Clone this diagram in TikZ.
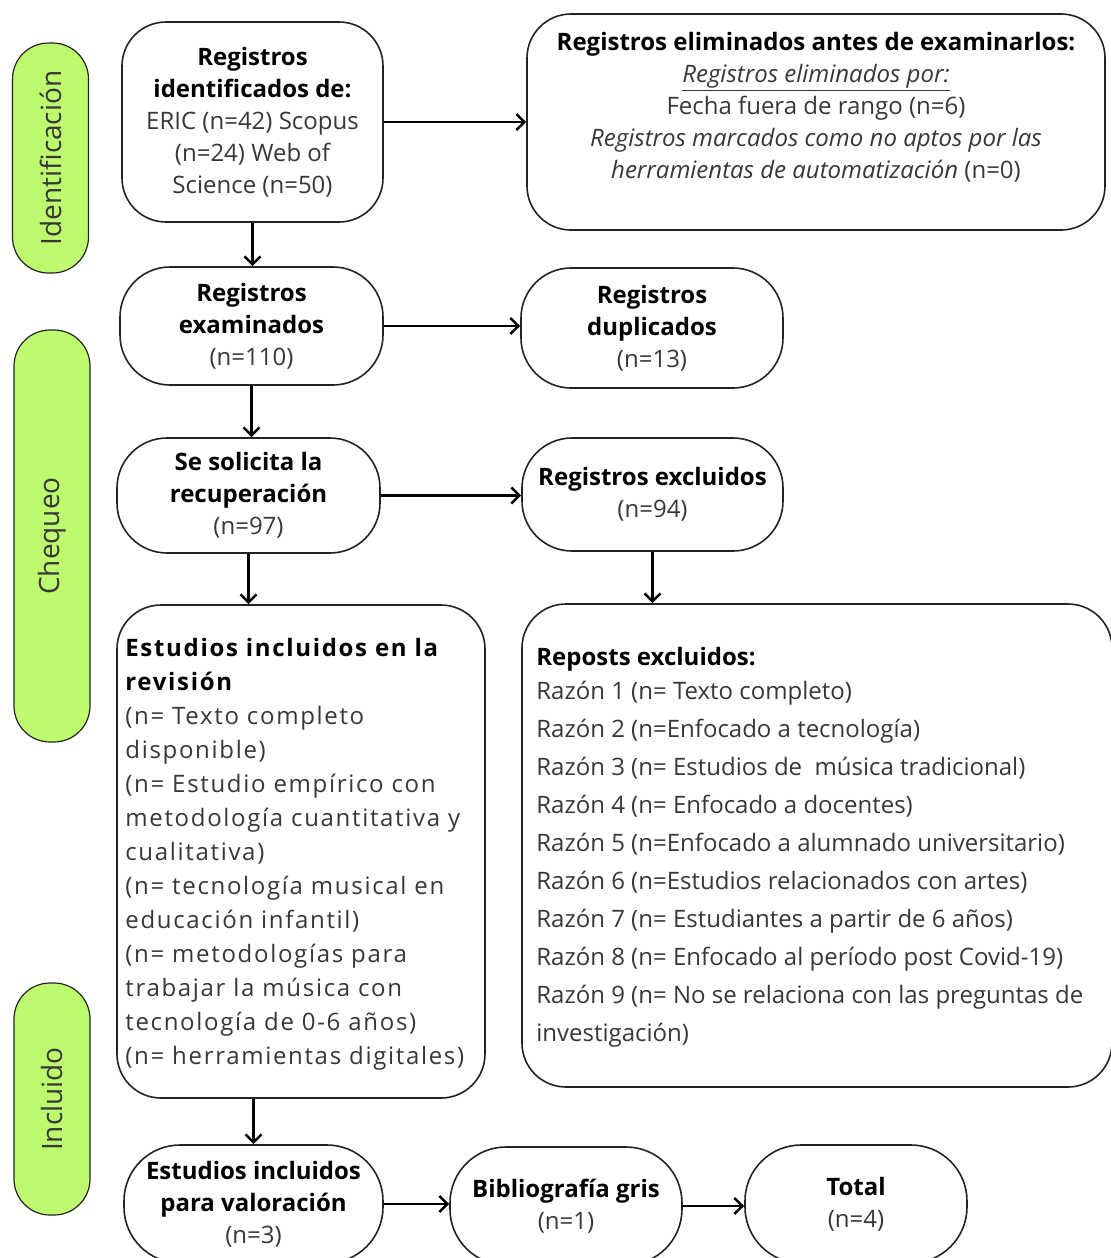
\documentclass[tikz,border=0pt]{standalone}
\usepackage{fontspec}
\setmainfont{Open Sans}
\newfontfamily\espaciada[LetterSpace=7]{Open Sans}
\usepackage{xcolor}
\definecolor{verdeClaro}{RGB}{190,250,110}
\definecolor{grisTexto}{RGB}{55,55,55}
\definecolor{grisBorde}{RGB}{35,35,35}
\usetikzlibrary{arrows.meta,positioning,calc}
\newcommand{\negrita}[1]{\textbf{\color{black}#1}}
\tikzstyle{caja}=[draw=grisBorde, line width=0.8pt, rounded corners=22pt,
                  align=center, text=grisTexto, inner sep=0pt,
                  font=\fontsize{12}{16}\selectfont]
\tikzstyle{texto}=[align=center, text=grisTexto, inner sep=0pt,
                   font=\fontsize{12}{16}\selectfont]
\tikzstyle{fase}=[draw=grisBorde, line width=0.6pt, fill=verdeClaro,
                  rounded corners=18pt, rotate=90, text=grisTexto,
                  minimum height=38pt, inner sep=0pt,
                  font=\fontsize{14}{16}\selectfont]
\tikzstyle{flecha}=[-{Straight Barb[length=4pt,width=8pt]},
                    line width=1.3pt, draw=black]

\begin{document}
\begin{tikzpicture}[x=0.5pt,y=-0.5pt]
    \useasboundingbox (0,0) rectangle (1110,1258);

    % fases
    \draw (50.5,158) node(idf)[fase, minimum width=115pt]{Identificación};
    \draw (52,536) node(chq)[fase, minimum width=206pt]{Chequeo};
    \draw (52,1099) node(inc)[fase, minimum width=116pt]{Incluido};

    % identificacion
    \draw (252.5,122) node(A)[caja, minimum width=130.5pt, minimum height=100pt]
        {\negrita{Registros}\\ \negrita{identificados de:}\\ ERIC (n=42) Scopus\\
         (n=24) Web of\\ Science (n=50)};
    \draw (816,122) node(B)[caja, minimum width=289pt, minimum height=108pt]{};
    \draw (816,107) node(Btexto)[texto]
        {\negrita{Registros eliminados antes de examinarlos:}\\
         \textit{\underline{Registros eliminados por:}}\\
         Fecha fuera de rango (n=6)\\
         \textit{Registros marcados como no aptos por las}\\
         \textit{herramientas de automatización} (n=0)};

    % chequeo
    \draw (251.5,326) node(C)[caja, rounded corners=25pt,
        minimum width=131.5pt, minimum height=59pt]
        {\negrita{Registros}\\ \negrita{examinados}\\ (n=110)};
    \draw (652,328) node(D)[caja, rounded corners=25pt,
        minimum width=131pt, minimum height=60pt]
        {\negrita{Registros}\\ \negrita{duplicados}\\ (n=13)};
    \draw (248.5,495.5) node(E)[caja, rounded corners=25pt,
        minimum width=131.5pt, minimum height=57.5pt]
        {\negrita{Se solicita la}\\ \negrita{recuperación}\\ (n=97)};
    \draw (652.5,494.5) node(F)[caja, rounded corners=25pt,
        minimum width=130.5pt, minimum height=56.5pt]
        {\negrita{Registros excluidos}\\ (n=94)};

    \draw (301,851.5) node(G)[caja, minimum width=184pt, minimum height=246.5pt]{};
    \draw (125,854) node(Gtexto)[texto, anchor=west, align=left,
        font=\espaciada\fontsize{12}{17}\selectfont]
        {\negrita{Estudios incluidos en la}\\ \negrita{revisión}\\
         (n= Texto completo\\ disponible)\\
         (n= Estudio empírico con\\ metodología cuantitativa y\\ cualitativa)\\
         (n= tecnología musical en\\ educación infantil)\\
         (n= metodologías para\\ trabajar la música con\\ tecnología de 0-6 años)\\
         (n= herramientas digitales)};

    \draw (817,845.5) node(H)[caja, minimum width=295pt, minimum height=241.5pt]{};
    \draw (536,847) node(Htexto)[texto, anchor=west, align=left,
        font=\fontsize{12}{19}\selectfont]
        {\negrita{Reposts excluidos:}\\[-2pt]
         Razón 1 (n= Texto completo)\\
         Razón 2 (n=Enfocado a tecnología)\\
         Razón 3 (n= Estudios de\ \ música tradicional)\\
         Razón 4 (n= Enfocado a docentes)\\
         Razón 5 (n=Enfocado a alumnado universitario)\\
         Razón 6 (n=Estudios relacionados con artes)\\
         Razón 7 (n= Estudiantes a partir de 6 años)\\
         Razón 8 (n= Enfocado al período post Covid-19)\\
         Razón 9 (n= No se relaciona con las preguntas de\\
         investigación)};

    % incluido
    \draw (253.5,1204) node(I)[caja, rounded corners=28pt,
        minimum width=129.5pt, minimum height=59pt]
        {\negrita{Estudios incluidos}\\ \negrita{para valoración}\\ (n=3)};
    \draw (566,1206) node(J)[caja, rounded corners=28pt,
        minimum width=116pt, minimum height=59pt]
        {\negrita{Bibliografía gris}\\ (n=1)};
    \draw (856,1204) node(K)[caja, rounded corners=28pt,
        minimum width=111pt, minimum height=59pt]
        {\negrita{Total}\\ (n=4)};

    % flechas
    \draw [flecha] (A.east) to (B.west);
    \draw [flecha] (A.south) to (A.south |- C.north);
    \draw [flecha] (C.east) to (C.east -| D.west);
    \draw [flecha] (C.south) to (C.south |- E.north);
    \draw [flecha] (E.east) to (E.east -| F.west);
    \draw [flecha] (E.south) to (E.south |- G.north);
    \draw [flecha] (F.south) to (F.south |- H.north);
    \draw [flecha] (I.north |- G.south) to (I.north);
    \draw [flecha] (I.east) to (I.east -| J.west);
    \draw [flecha] (J.east) to (J.east -| K.west);

\end{tikzpicture}
\end{document}
